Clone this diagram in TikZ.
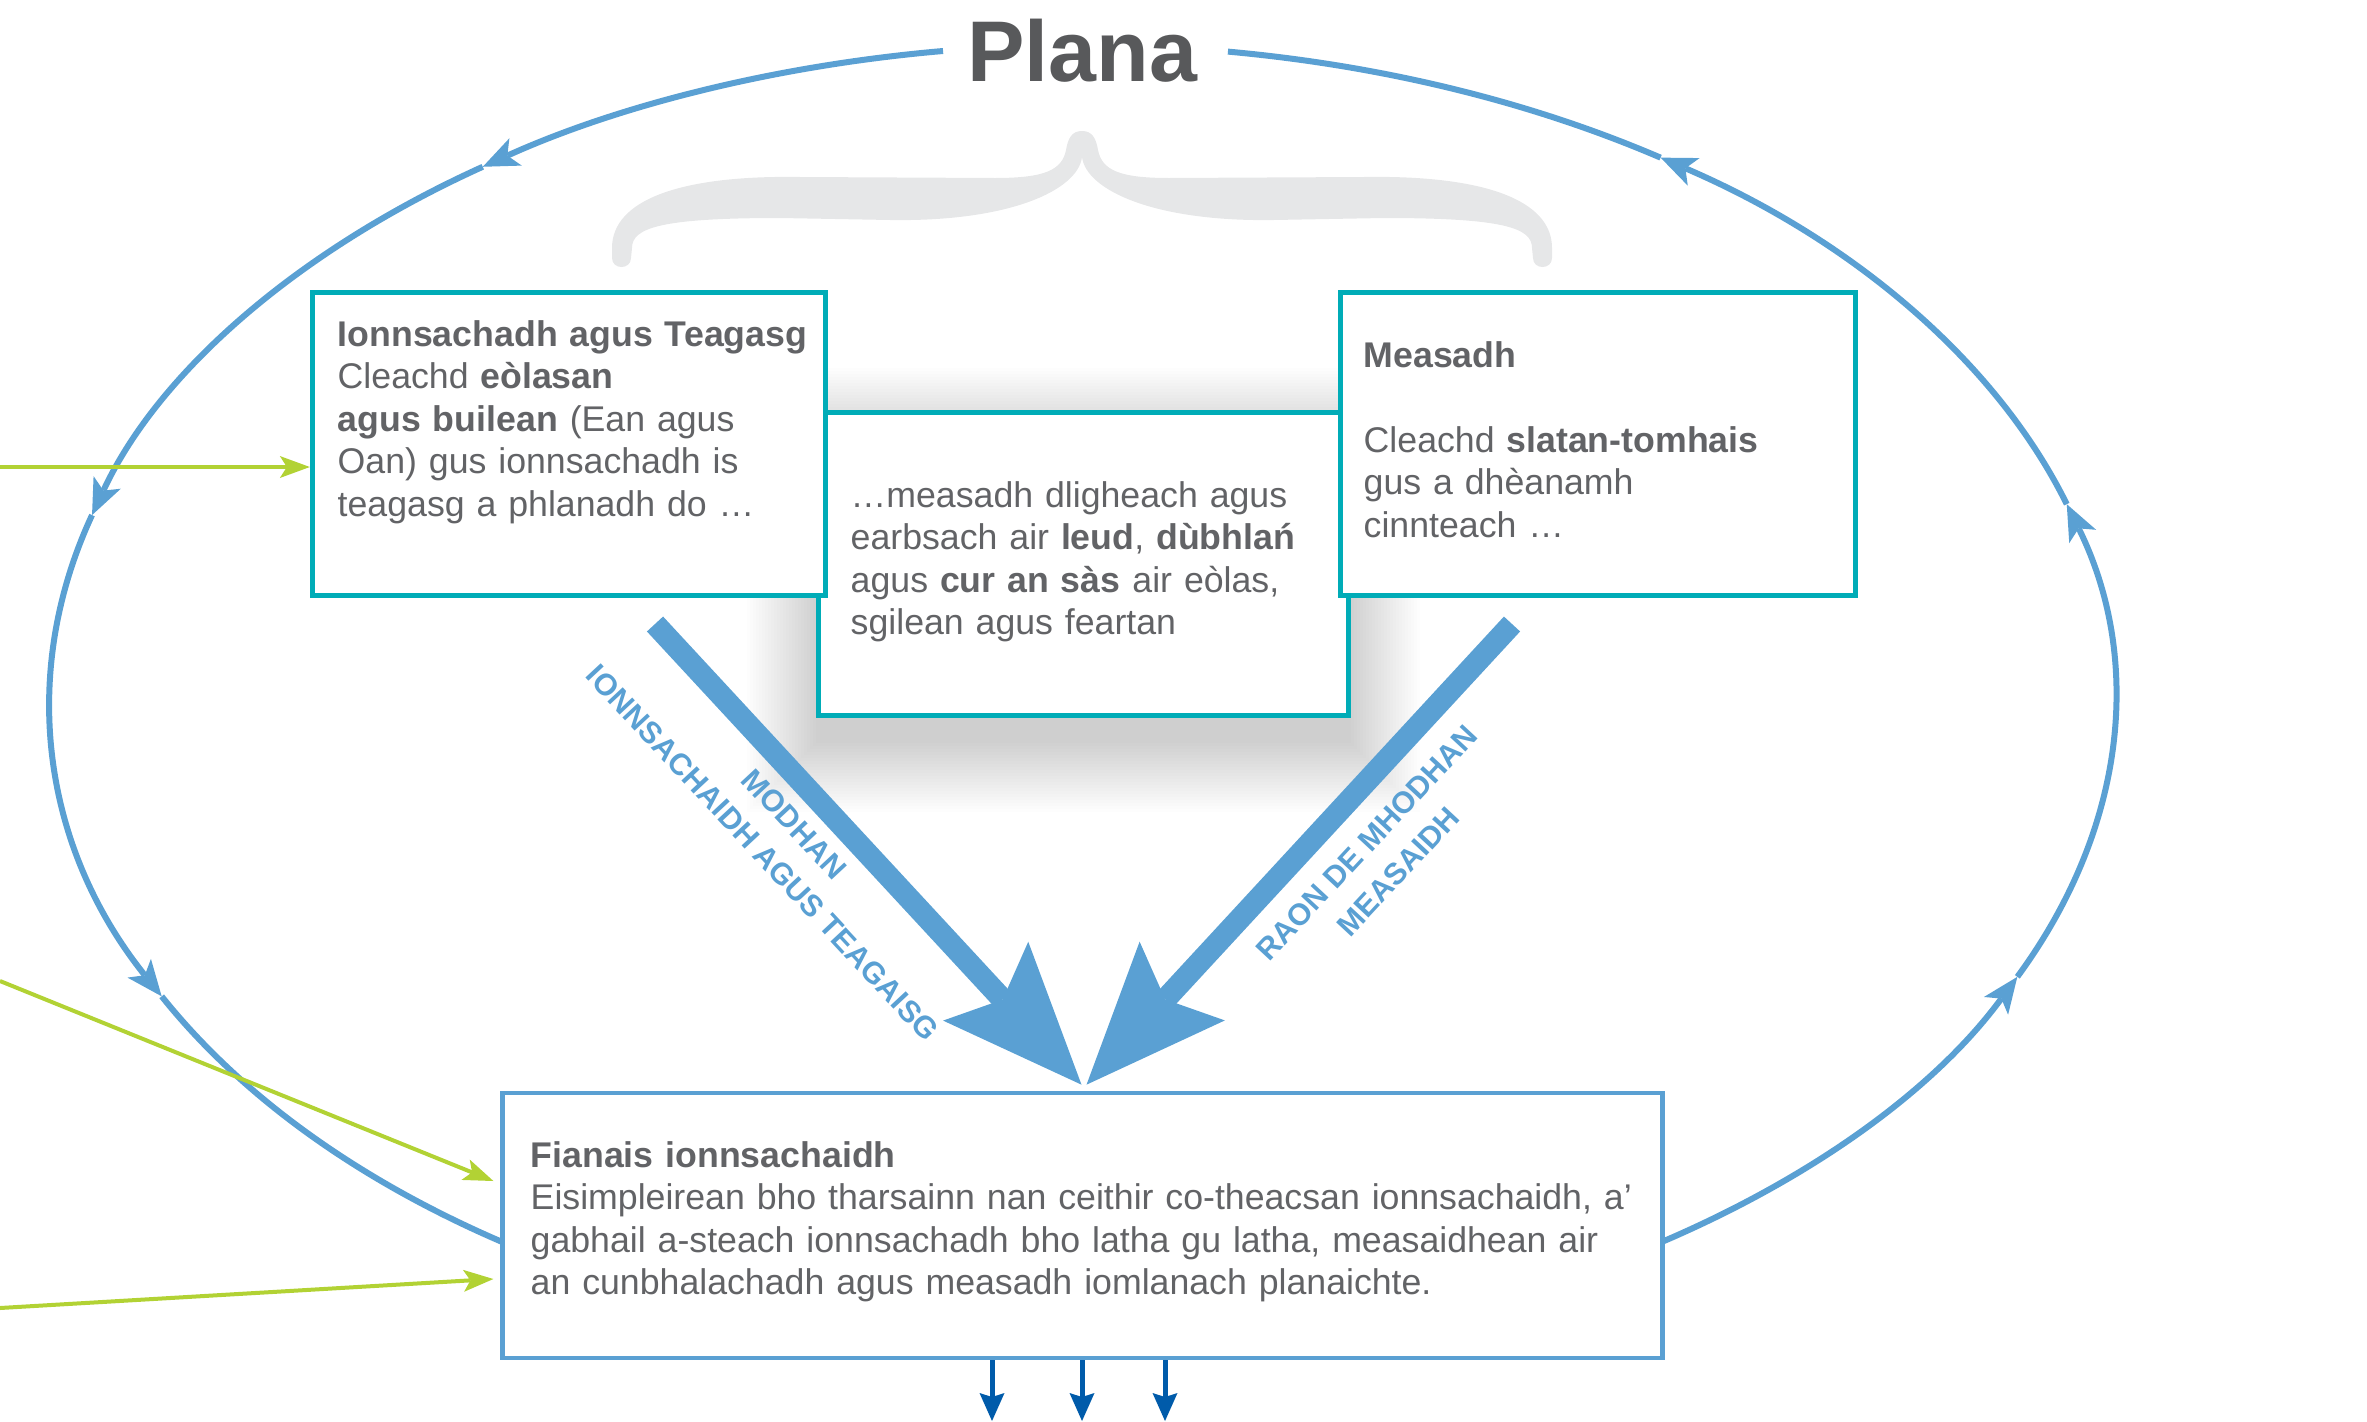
\documentclass[tikz,border=0pt]{standalone}
\usepackage{fontspec}
\setmainfont{Liberation Sans}
\usetikzlibrary{arrows.meta,calc}
\definecolor{txtgray}{RGB}{98,99,102}
\definecolor{titlegray}{RGB}{88,89,91}
\definecolor{tealc}{RGB}{0,172,183}
\definecolor{bluec}{RGB}{90,160,211}
\definecolor{greenc}{RGB}{178,210,52}
\definecolor{darkblue}{RGB}{0,91,170}
\definecolor{bracegray}{RGB}{230,231,232}
\tikzset{
  bodyfont/.style={font=\fontsize{10.15pt}{12.1pt}\selectfont, text=txtgray},
  txt/.style={bodyfont, inner sep=0pt, anchor=base west, align=left, text width=#1},
  tealbox/.style={draw=tealc, line width=0.05cm, fill=white, inner sep=0pt},
  bluebox/.style={draw=bluec, line width=0.045cm, fill=white, inner sep=0pt},
  ellline/.style={draw=bluec, line width=0.06cm},
  elltip/.style={-{Stealth[length=0.36cm, width=0.30cm, inset=0.09cm, line width=0pt]}},
  bigarrow/.style={draw=bluec, line width=0.22cm, -{Stealth[length=1.41cm, width=1.16cm, inset=0.25cm, line width=0pt]}},
  greenarrow/.style={draw=greenc, line width=0.04cm, -{Stealth[length=0.30cm, width=0.22cm, inset=0.07cm, line width=0pt]}},
  downarrow/.style={draw=darkblue, line width=0.05cm, -{Stealth[length=0.28cm, width=0.25cm, inset=0.04cm, line width=0pt]}},
  arrowlabel/.style={font=\fontsize{8.65pt}{12.1pt}\selectfont\bfseries, text=bluec, align=center, inner sep=0pt},
}
\begin{document}
\begin{tikzpicture}[x=0.01cm, y=-0.01cm]
\useasboundingbox (0,0) rectangle (2367,1421);
\coordinate (C) at (1082,700);
% cycle ellipse
\foreach \s/\e in {262.26/234.5, 234.5/196.4, 196.4/153.1, 153.1/25, 25/-17.4, -17.4/-55.9}
  \draw[ellline, elltip] ($(C)+(\s:1032 and 655)$) arc[start angle=\s, end angle=\e, x radius=1032, y radius=655];
\draw[ellline] ($(C)+(-55.9:1032 and 655)$) arc[start angle=-55.9, end angle=-81.87, x radius=1032, y radius=655];
% brace
\fill[bracegray] (1082,131) .. controls (1072,131) and (1068,138) .. (1066,150)
  .. controls (1062,170) and (1045,178) .. (995,178) -- (800,177)
  .. controls (680,175) and (612,200) .. (612,248) -- (612,258)
  .. controls (612,270) and (631,270) .. (631,258) -- (632,248)
  .. controls (632,228) and (660,218) .. (780,218) -- (890,220)
  .. controls (1010,222) and (1078,190) .. (1082,157) -- cycle;
\begin{scope}[shift={(2164,0)}, xscale=-1]
\fill[bracegray] (1082,131) .. controls (1072,131) and (1068,138) .. (1066,150)
  .. controls (1062,170) and (1045,178) .. (995,178) -- (800,177)
  .. controls (680,175) and (612,200) .. (612,248) -- (612,258)
  .. controls (612,270) and (631,270) .. (631,258) -- (632,248)
  .. controls (632,228) and (660,218) .. (780,218) -- (890,220)
  .. controls (1010,222) and (1078,190) .. (1082,157) -- cycle;
\end{scope}
% title
\node[font=\fontsize{24.5pt}{28pt}\selectfont\bfseries, text=titlegray, anchor=base, inner sep=0pt] (title) at (1082,81) {Plana};
% shadow of middle box
\foreach \i in {1,...,24}
  \fill[black, opacity=0.0075] (819-3*\i, 440-3*\i) rectangle (1348+3*\i, 740+3*\i);
% boxes
\node[tealbox, minimum width=5.29cm, minimum height=3.02cm] (b2) at (1083.5,564) {};
\node[tealbox, minimum width=5.13cm, minimum height=3.02cm] (b1) at (569,444) {};
\node[tealbox, minimum width=5.14cm, minimum height=3.02cm] (b3) at (1598,444) {};
\node[bluebox, minimum width=11.59cm, minimum height=2.65cm] (b4) at (1082.5,1225.5) {};
% texts
\node[txt=5cm] (t1) at (337,346) {\textbf{Ionnsachadh agus Teagasg}\\ Cleachd \textbf{eòlasan}\\ \textbf{agus builean} (Ean agus\\ Oan) gus ionnsachadh is\\ teagasg a phlanadh do …};
\node[txt=5cm] (t2) at (850,507) {…measadh dligheach agus\\ earbsach air \textbf{leud}, \textbf{dùbhlań}\\ agus \textbf{cur an sàs} air eòlas,\\ sgilean agus feartan};
\node[txt=5cm] (t3) at (1363,367) {\textbf{Measadh}\\[12.1pt] Cleachd \textbf{slatan-tomhais}\\ gus a dhèanamh\\ cinnteach …};
\node[txt=11.3cm] (t4) at (530,1167) {\textbf{Fianais ionnsachaidh}\\ Eisimpleirean bho tharsainn nan ceithir co-theacsan ionnsachaidh, a’\\ gabhail a-steach ionnsachadh bho latha gu latha, measaidhean air\\ an cunbhalachadh agus measadh iomlanach planaichte.};
% big arrows
\coordinate (la) at (655,624);
\coordinate (ra) at (1512,624);
\draw[bigarrow] (la) -- ($(b4.north)+(-1,-6)$);
\draw[bigarrow] (ra) -- ($(b4.north)+(4,-6)$);
\node[arrowlabel, rotate=-47.1] (lab1) at (778.5,838.5) {MODHAN\\IONNSACHAIDH AGUS TEAGAISG};
\node[arrowlabel, rotate=47.1] (lab2) at (1382.5,857) {RAON DE MHODHAN\\MEASAIDH};
% green arrows
\coordinate (g1) at (0,467);
\coordinate (g2) at (0,981);
\coordinate (g3) at (0,1308);
\draw[greenarrow] (g1) -- (g1 -| b1.west);
\draw[greenarrow] (g2) -- ($(b4.west)+(-7,-44.5)$);
\draw[greenarrow] (g3) -- ($(b4.west)+(-7,53.5)$);
% down arrows
\foreach \x [count=\k] in {992,1082,1165} {
  \coordinate (d\k) at (\x,1421);
  \draw[downarrow] (b4.south -| d\k) -- (d\k);
}
\end{tikzpicture}
\end{document}
